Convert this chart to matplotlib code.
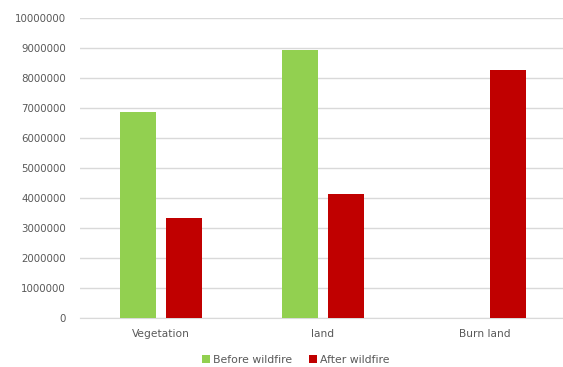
import matplotlib.pyplot as plt
import numpy as np

categorias = ['Vegetation', 'land', 'Burn land']
antes = [6870000, 8930000, 0]
depois = [3340000, 4140000, 8270000]

cor_antes = '#92d050'
cor_depois = '#c00000'
cinza = '#595959'

plt.rcParams['font.family'] = ['DejaVu Sans']

fig = plt.figure(figsize=(5.63, 3.67), dpi=100)
ax = fig.add_axes([80 / 563, 49 / 367, 486 / 563, 300 / 367])

x = np.arange(len(categorias))
largura = 0.224
desloc = 0.142
ax.bar(x - desloc, antes, largura, color=cor_antes, label='Before wildfire', zorder=3)
ax.bar(x + desloc, depois, largura, color=cor_depois, label='After wildfire', zorder=3)

ax.set_xlim(-0.5, 2.5)
ax.set_ylim(0, 10000000)
ax.set_yticks(np.arange(0, 10000001, 1000000))
ax.set_yticklabels([str(v) for v in range(0, 10000001, 1000000)])
ax.set_xticks(x)
ax.set_xticklabels(categorias)
ax.tick_params(axis='both', length=0, colors=cinza)
ax.tick_params(axis='y', pad=10, labelsize=7.4)
ax.tick_params(axis='x', pad=8, labelsize=7.7)

ax.grid(axis='y', color='#d9d9d9', linewidth=1, zorder=0)
for lado in ['top', 'right', 'left']:
    ax.spines[lado].set_visible(False)
ax.spines['bottom'].set_color('#d9d9d9')

fig.legend(loc='center', bbox_to_anchor=(296 / 563, 7 / 367), ncol=2, frameon=False,
           fontsize=7.8, handlelength=0.7, handleheight=0.7, handletextpad=0.3,
           columnspacing=1.6, labelcolor=cinza)

fig.savefig('out.png', dpi=100)
